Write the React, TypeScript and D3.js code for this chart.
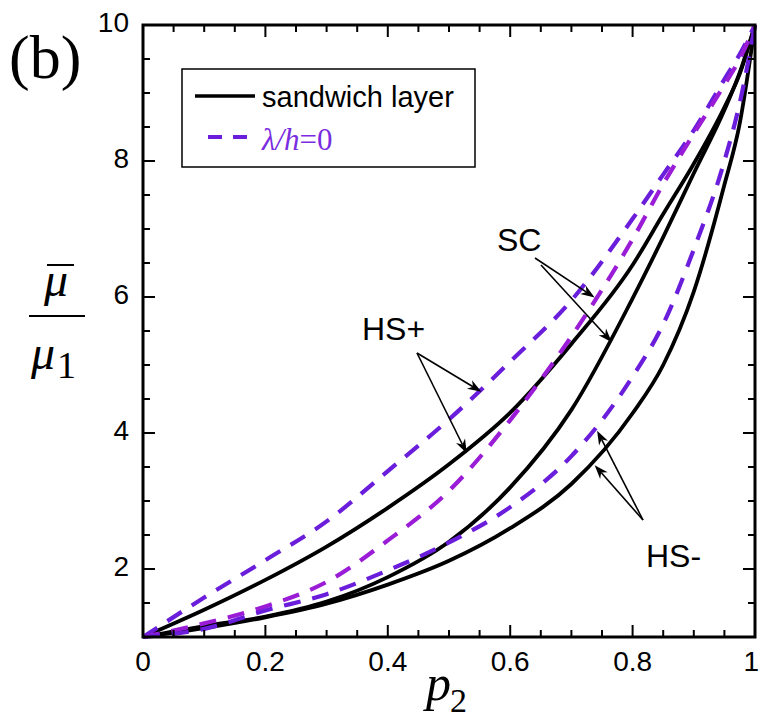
import React from "react";
import * as d3 from "d3";

// Volume fraction of phase 2
const P2 = [0, 0.1, 0.2, 0.3, 0.4, 0.5, 0.6, 0.7, 0.8, 0.85, 0.9, 0.95, 0.975, 1];

// Normalised effective shear modulus, sandwich layer model
const hsPlusSandwich = [1, 1.4, 1.84, 2.33, 2.9, 3.54, 4.3, 5.31, 6.47, 7.22, 7.96, 8.79, 9.28, 10];
const scSandwich = [1, 1.16, 1.3, 1.52, 1.88, 2.4, 3.2, 4.34, 5.98, 6.88, 7.82, 8.75, 9.3, 10];
const hsMinusSandwich = [1, 1.13, 1.29, 1.49, 1.77, 2.12, 2.6, 3.25, 4.29, 5.0, 6.08, 7.65, 8.55, 10];

// Classical limit, lambda/h = 0
const hsPlusClassic = [1, 1.58, 2.13, 2.7, 3.44, 4.2, 5.05, 5.95, 7.15, 7.8, 8.45, 9.2, 9.57, 10];
const scClassic = [1, 1.2, 1.45, 1.81, 2.42, 3.15, 4.19, 5.42, 6.85, 7.66, 8.4, 9.12, 9.5, 10];
const hsMinusClassic = [1, 1.12, 1.39, 1.63, 1.98, 2.39, 2.91, 3.66, 4.83, 5.6, 6.7, 8.0, 8.85, 10];

const xTickLabels = ["0", "0.2", "0.4", "0.6", "0.8", "1"];
const yTickLabels = ["2", "4", "6", "8", "10"];

const W = 759;
const H = 722;
const M = { left: 143, right: 755, top: 25, bottom: 637 };

const BLUE = "#6a1ddb";
const MAGENTA = "#9a1cd6";
const SANS = "'Liberation Sans', Arial, sans-serif";
const SERIF = "'Liberation Serif', 'Times New Roman', serif";

const x = d3.scaleLinear().domain([0, 1]).range([M.left, M.right]);
const y = d3.scaleLinear().domain([1, 10]).range([M.bottom, M.top]);

const line = d3
  .line<number>()
  .x((_, i) => x(P2[i]))
  .y((d) => y(d))
  .curve(d3.curveMonotoneX);

// linear lookup of a series at a given p2
function valueAt(series: number[], p: number): number {
  const i = Math.max(1, d3.bisectLeft(P2, p));
  const t = (p - P2[i - 1]) / (P2[i] - P2[i - 1]);
  return series[i - 1] + t * (series[i] - series[i - 1]);
}

function Arrow({ x0, y0, x1, y1 }: { x0: number; y0: number; x1: number; y1: number }) {
  const a = Math.atan2(y1 - y0, x1 - x0);
  const len = 14;
  const hw = 5;
  const bx = x1 - len * Math.cos(a);
  const by = y1 - len * Math.sin(a);
  const nx = x1 - len * 0.7 * Math.cos(a);
  const ny = y1 - len * 0.7 * Math.sin(a);
  const px = -Math.sin(a);
  const py = Math.cos(a);
  const head = `M${x1},${y1} L${bx + px * hw},${by + py * hw} L${nx},${ny} L${bx - px * hw},${by - py * hw} Z`;
  return (
    <g>
      <line x1={x0} y1={y0} x2={nx} y2={ny} stroke="#000" strokeWidth={1.6} />
      <path d={head} fill="#000" />
    </g>
  );
}

export default function App() {
  const xTicks = d3.range(0, 21).map((k) => k / 20);
  const yTicks = d3.range(2, 21).map((k) => k / 2);

  const solids = [hsPlusSandwich, scSandwich, hsMinusSandwich];
  const dashed: [number[], string][] = [
    [hsPlusClassic, BLUE],
    [scClassic, MAGENTA],
    [hsMinusClassic, BLUE],
  ];

  const hsPlusOrigin = { x: 417, y: 353 };
  const scOrigin = { x: 535, y: 258 };
  const hsMinusOrigin = { x: 643, y: 520 };

  return (
    <svg
      width={W}
      height={H}
      viewBox={`0 0 ${W} ${H}`}
      style={{ position: "absolute", left: 0, top: 0, background: "#fff" }}
    >
      <rect x={0} y={0} width={W} height={H} fill="#fff" />

      {/* curves */}
      <g fill="none">
        {solids.map((s, i) => (
          <path key={`s${i}`} d={line(s) || ""} stroke="#000" strokeWidth={3.8} strokeLinejoin="round" />
        ))}
        {dashed.map(([s, c], i) => (
          <path
            key={`d${i}`}
            d={line(s) || ""}
            stroke={c}
            strokeWidth={4.2}
            strokeDasharray="17,12"
            strokeLinecap="butt"
          />
        ))}
      </g>

      {/* ticks */}
      <g stroke="#000" strokeWidth={2}>
        {xTicks.map((t, i) => {
          const len = i % 4 === 0 ? 12 : 7;
          return (
            <g key={`xt${i}`}>
              <line x1={x(t)} x2={x(t)} y1={M.bottom} y2={M.bottom - len} />
              <line x1={x(t)} x2={x(t)} y1={M.top} y2={M.top + len} />
            </g>
          );
        })}
        {yTicks.map((t, i) => {
          const len = t % 2 === 0 ? 12 : 7;
          return (
            <g key={`yt${i}`}>
              <line x1={M.left} x2={M.left + len} y1={y(t)} y2={y(t)} />
              <line x1={M.right} x2={M.right - len} y1={y(t)} y2={y(t)} />
            </g>
          );
        })}
      </g>

      {/* frame */}
      <rect
        x={M.left}
        y={M.top}
        width={M.right - M.left}
        height={M.bottom - M.top}
        fill="none"
        stroke="#000"
        strokeWidth={3}
      />

      {/* tick labels */}
      <g fontFamily={SANS} fontSize={28} fill="#000">
        {xTickLabels.map((lab) => (
          <text
            key={`xl${lab}`}
            x={lab === "1" ? 759 : x(+lab)}
            y={671}
            textAnchor={lab === "1" ? "end" : "middle"}
          >
            {lab}
          </text>
        ))}
        {yTickLabels.map((lab) => (
          <text key={`yl${lab}`} x={129} y={y(+lab) + 7} textAnchor="end">
            {lab}
          </text>
        ))}
      </g>

      {/* axis titles */}
      <text x={426} y={700} fontFamily={SERIF} fontStyle="italic" fontSize={50}>
        p
      </text>
      <text x={450} y={712} fontFamily={SERIF} fontSize={34}>
        2
      </text>

      <text x={44} y={296} fontFamily={SERIF} fontStyle="italic" fontSize={48}>
        μ
      </text>
      <line x1={47} x2={74} y1={265} y2={265} stroke="#000" strokeWidth={2} />
      <line x1={29} x2={85} y1={316} y2={316} stroke="#000" strokeWidth={2} />
      <text x={31} y={369} fontFamily={SERIF} fontStyle="italic" fontSize={48}>
        μ
      </text>
      <text x={57} y={378} fontFamily={SERIF} fontSize={38}>
        1
      </text>

      <text x={9} y={78} fontFamily={SERIF} fontSize={62}>
        (b)
      </text>

      {/* legend */}
      <rect x={182} y={69} width={293} height={98} fill="#fff" stroke="#000" strokeWidth={1.5} />
      <line x1={195} x2={255} y1={96} y2={96} stroke="#000" strokeWidth={3.5} />
      <text x={262} y={107} fontFamily={SANS} fontSize={29}>
        sandwich layer
      </text>
      <line
        x1={208}
        x2={252}
        y1={137}
        y2={137}
        stroke={BLUE}
        strokeWidth={4}
        strokeDasharray="14,11"
      />
      <text x={262} y={150} fontFamily={SERIF} fontSize={31} fill="#7a2de0">
        <tspan fontStyle="italic">λ</tspan>
        <tspan fontStyle="italic">/h</tspan>
        <tspan>=0</tspan>
      </text>

      {/* annotations */}
      <g fontFamily={SANS} fontSize={32} fill="#000">
        <text x={497} y={251}>SC</text>
        <text x={362} y={340}>HS+</text>
        <text x={646} y={567}>HS-</text>
      </g>
      <Arrow x0={hsPlusOrigin.x} y0={hsPlusOrigin.y} x1={x(0.553)} y1={y(valueAt(hsPlusClassic, 0.553)) + 3} />
      <Arrow x0={hsPlusOrigin.x} y0={hsPlusOrigin.y} x1={x(0.529)} y1={y(valueAt(hsPlusSandwich, 0.529)) + 4} />
      <Arrow x0={scOrigin.x} y0={scOrigin.y} x1={x(0.738)} y1={y(valueAt(scClassic, 0.738)) - 2} />
      <Arrow x0={scOrigin.x + 6} y0={scOrigin.y + 7} x1={x(0.766)} y1={y(valueAt(scSandwich, 0.766)) + 6} />
      <Arrow x0={hsMinusOrigin.x} y0={hsMinusOrigin.y} x1={x(0.742)} y1={y(valueAt(hsMinusClassic, 0.742)) + 8} />
      <Arrow x0={hsMinusOrigin.x} y0={hsMinusOrigin.y} x1={x(0.738)} y1={y(valueAt(hsMinusSandwich, 0.738)) + 8} />
    </svg>
  );
}
